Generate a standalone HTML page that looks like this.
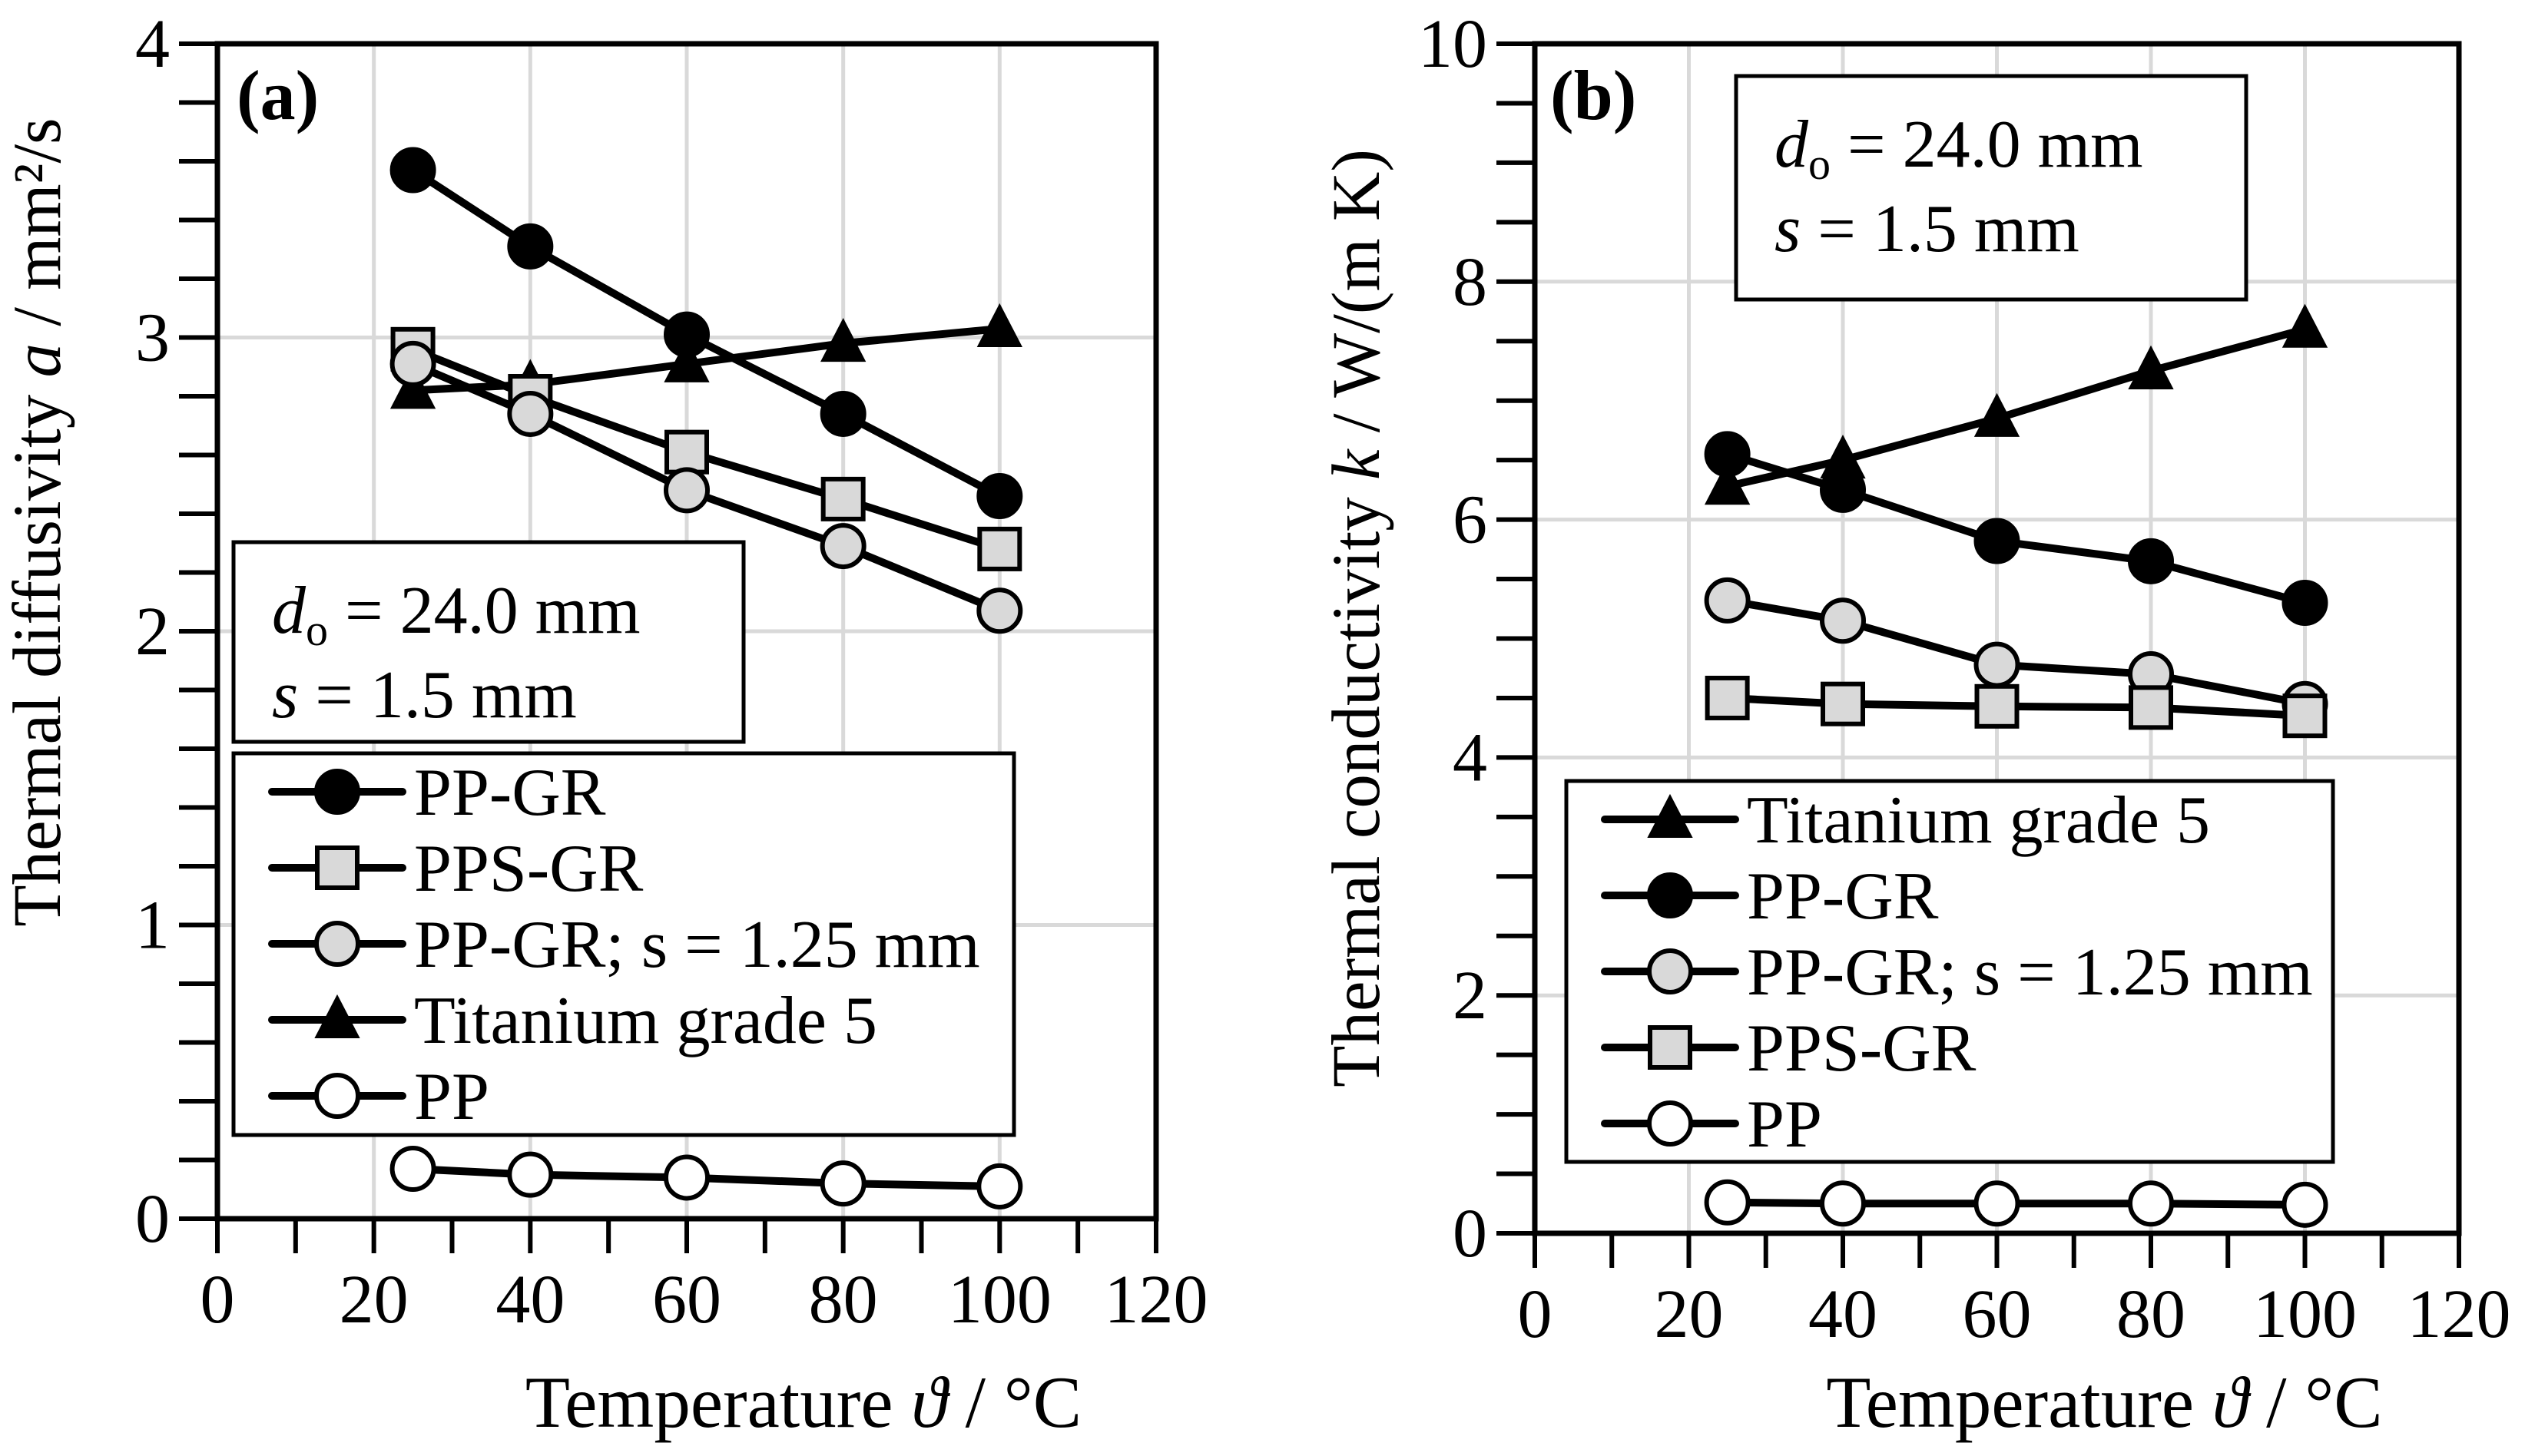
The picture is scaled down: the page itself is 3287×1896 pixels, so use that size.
<!DOCTYPE html>
<html><head><meta charset="utf-8"><style>
html,body{margin:0;padding:0;background:#fff}
svg{display:block}
text{font-family:"Liberation Serif","DejaVu Serif",serif;fill:#000}
</style></head><body>
<svg id="chart" width="3287" height="1896" viewBox="0 0 3287 1896" xmlns="http://www.w3.org/2000/svg"></svg>
<script>
const temps = [25, 40, 60, 80, 100];
const xTicks = [0, 20, 40, 60, 80, 100, 120];
// panel (a) thermal diffusivity
const aPPGR = [3.57, 3.31, 3.01, 2.74, 2.46];
const aPPSGR = [2.96, 2.80, 2.61, 2.45, 2.28];
const aPPGR125 = [2.91, 2.74, 2.48, 2.29, 2.07];
const aTi = [2.82, 2.84, 2.91, 2.98, 3.03];
const aPP = [0.17, 0.15, 0.14, 0.12, 0.11];
const aYTicks = [0, 1, 2, 3, 4];
// panel (b) thermal conductivity
const bTi = [6.28, 6.50, 6.85, 7.25, 7.60];
const bPPGR = [6.55, 6.25, 5.82, 5.65, 5.30];
const bPPGR125 = [5.32, 5.15, 4.78, 4.70, 4.45];
const bPPSGR = [4.50, 4.45, 4.43, 4.42, 4.35];
const bPP = [0.26, 0.25, 0.25, 0.25, 0.24];
const bYTicks = [0, 2, 4, 6, 8, 10];

const NS = "http://www.w3.org/2000/svg";
const svg = document.getElementById('chart');
function mk(tag, attrs, parent){const e=document.createElementNS(NS,tag);for(const k in attrs)e.setAttribute(k,attrs[k]);(parent||svg).appendChild(e);return e;}

function marker(g, type, cx, cy, fill){
  let e;
  if(type==='circle'){e=mk('circle',{cx:cx,cy:cy,r:27,fill:fill,stroke:'#000','stroke-width':6},g);}
  else if(type==='square'){e=mk('rect',{x:cx-26,y:cy-26,width:52,height:52,fill:fill,stroke:'#000','stroke-width':6},g);}
  else {e=mk('polygon',{points:`${cx},${cy-31} ${cx-28},${cy+23} ${cx+28},${cy+23}`,fill:'#000',stroke:'#000','stroke-width':2},g);}
  return e;
}

function panel(cfg){
  const X=v=>cfg.x0+(v-0)/(120)*(cfg.x1-cfg.x0);
  const Y=v=>cfg.y0-(v-0)/(cfg.yMax)*(cfg.y0-cfg.y1);
  const g=mk('g',{});
  
  
  xTicks.forEach(t=>{ if(t>0&&t<120){const l=mk('line',{x1:X(t),x2:X(t),y1:cfg.y0,y2:cfg.y1,stroke:'#d9d9d9','stroke-width':5},g);
    }});
  cfg.yTicks.forEach(t=>{ if(t>0&&t<cfg.yMax){const l=mk('line',{x1:cfg.x0,x2:cfg.x1,y1:Y(t),y2:Y(t),stroke:'#d9d9d9','stroke-width':5},g);
    }});
  const fr=mk('rect',{x:cfg.x0,y:cfg.y1,width:cfg.x1-cfg.x0,height:cfg.y0-cfg.y1,fill:'none',stroke:'#000','stroke-width':7},g);
  
  for(let v=0;v<=120.001;v+=10){mk('line',{x1:X(v),x2:X(v),y1:cfg.y0,y2:cfg.y0+45,stroke:'#000','stroke-width':6},g);}
  for(let v=0;v<=cfg.yMax+1e-6;v+=cfg.minor){mk('line',{x1:cfg.x0-50,x2:cfg.x0,y1:Y(v),y2:Y(v),stroke:'#000','stroke-width':6},g);}
  xTicks.forEach(t=>{const tx=mk('text',{x:X(t),y:cfg.y0+135,'font-size':90,'text-anchor':'middle'},g);tx.textContent=t;
    });
  cfg.yTicks.forEach(t=>{const tx=mk('text',{x:cfg.x0-62,y:Y(t)+30,'font-size':90,'text-anchor':'end'},g);tx.textContent=t;
    });
  const xt=mk('text',{x:(cfg.x0+cfg.x1)/2+cfg.xtOff,y:1858,'font-size':95,'text-anchor':'middle'},g);
  xt.innerHTML='Temperature <tspan font-style="italic">ϑ</tspan> / °C';
  
  const yt=mk('text',{x:0,y:0,'font-size':89,'text-anchor':'middle',transform:`translate(${cfg.ytX},${cfg.ytY}) rotate(-90)`},g);
  yt.innerHTML=cfg.ytitle;
  
  cfg.series.forEach(s=>{
    const sg=mk('g',{},g);
    
    const pts=temps.map((t,i)=>X(t)+','+Y(s.data[i])).join(' ');
    mk('polyline',{points:pts,fill:'none',stroke:'#000','stroke-width':10},sg);
    temps.forEach((t,i)=>{const m=marker(sg,s.type,X(t),Y(s.data[i]),s.fill);
      });
  });
  const pl=mk('text',{x:cfg.lblX,y:155,'font-size':92,'font-weight':'bold'},g);pl.textContent=cfg.label;
  
  const ab=mk('g',{},g);
  mk('rect',{x:cfg.ann[0],y:cfg.ann[1],width:cfg.ann[2],height:cfg.ann[3],fill:'#fff',stroke:'#000','stroke-width':5},ab);
  const a1=mk('text',{x:cfg.ann[0]+50,y:cfg.ann[1]+118,'font-size':88},ab);
  a1.innerHTML='<tspan font-style="italic">d</tspan><tspan font-size="58" dy="16">o</tspan><tspan dy="-16"> = 24.0 mm</tspan>';
  const a2=mk('text',{x:cfg.ann[0]+50,y:cfg.ann[1]+228,'font-size':88},ab);
  a2.innerHTML='<tspan font-style="italic">s</tspan> = 1.5 mm';
  const lg=mk('g',{},g);
  mk('rect',{x:cfg.leg[0],y:cfg.leg[1],width:cfg.leg[2],height:cfg.leg[3],fill:'#fff',stroke:'#000','stroke-width':5},lg);
  cfg.legOrder.forEach((k,i)=>{
    const s=cfg.series.find(q=>q.key===k);
    const ey=cfg.leg[1]+50+i*99;
    const eg=mk('g',{},lg);
    mk('line',{x1:cfg.leg[0]+50,x2:cfg.leg[0]+220,y1:ey,y2:ey,stroke:'#000','stroke-width':10,'stroke-linecap':'round'},eg);
    marker(eg,s.type,cfg.leg[0]+135,ey,s.fill);
    const t=mk('text',{x:cfg.leg[0]+235,y:ey+30,'font-size':88},eg);t.textContent=s.label;
  });
}

panel({name:'panel-a',x0:283,x1:1505,y0:1587,y1:57,yMax:4,minor:0.2,yTicks:aYTicks,label:'(a)',lblX:308,
  ytitle:'Thermal diffusivity <tspan font-style="italic">a</tspan> / mm²/s',ytX:78,ytY:680,xtOff:152,
  ann:[304,706,664,260],leg:[304,981,1016,497],
  legOrder:['ppgr','ppsgr','ppgr125','ti','pp'],
  series:[
    {key:'ti',label:'Titanium grade 5',type:'tri',fill:'#000',data:aTi},
    {key:'ppgr',label:'PP-GR',type:'circle',fill:'#000',data:aPPGR},
    {key:'ppsgr',label:'PPS-GR',type:'square',fill:'#d9d9d9',data:aPPSGR},
    {key:'ppgr125',label:'PP-GR; s = 1.25 mm',type:'circle',fill:'#d9d9d9',data:aPPGR125},
    {key:'pp',label:'PP',type:'circle',fill:'#fff',data:aPP}]});

panel({name:'panel-b',x0:1998,x1:3201,y0:1606,y1:57,yMax:10,minor:0.5,yTicks:bYTicks,label:'(b)',lblX:2018,
  ytitle:'Thermal conductivity <tspan font-style="italic">k</tspan> / W/(m K)',ytX:1795,ytY:805,xtOff:140,
  ann:[2260,99,664,291],leg:[2039,1017,998,496],
  legOrder:['ti','ppgr','ppgr125','ppsgr','pp'],
  series:[
    {key:'ti',label:'Titanium grade 5',type:'tri',fill:'#000',data:bTi},
    {key:'ppgr',label:'PP-GR',type:'circle',fill:'#000',data:bPPGR},
    {key:'ppgr125',label:'PP-GR; s = 1.25 mm',type:'circle',fill:'#d9d9d9',data:bPPGR125},
    {key:'ppsgr',label:'PPS-GR',type:'square',fill:'#d9d9d9',data:bPPSGR},
    {key:'pp',label:'PP',type:'circle',fill:'#fff',data:bPP}]});
</script>
</body></html>
